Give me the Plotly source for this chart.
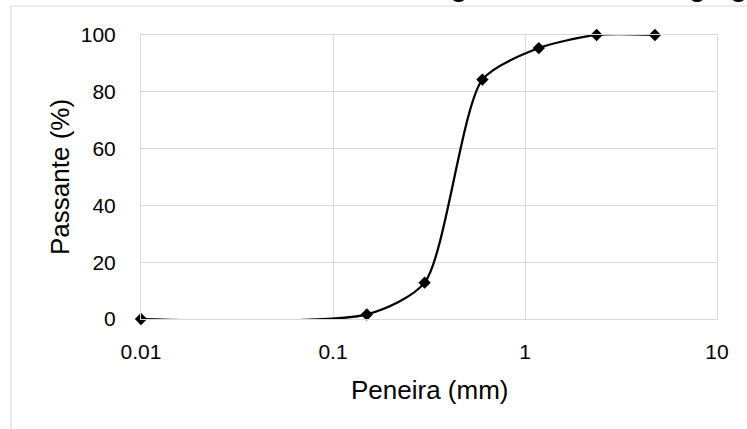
import plotly.graph_objects as go

# Sieve analysis data (sieve opening in mm, cumulative % passing)
peneira_mm = [0.01, 0.15, 0.3, 0.6, 1.18, 2.36, 4.75]
passante_pct = [0.0, 1.6, 12.8, 84.3, 95.4, 100.0, 100.0]

x_tick_vals = [0.01, 0.1, 1, 10]
x_tick_text = ["0.01", "0.1", "1", "10"]
y_tick_vals = [0, 20, 40, 60, 80, 100]

titulo = "Resultado do ensaio de granulometria do agregado miúdo"
titulo_x = "Peneira (mm)"
titulo_y = "Passante (%)"

W, H = 747, 429
L, R, T, B = 141, 30, 35, 110
pw, ph = W - L - R, H - T - B


def px_x(p):
    return (p - L) / pw


def px_y(p):
    return (H - B - p) / ph


grid = "#d9d9d9"
font_family = "Liberation Sans, Arial, sans-serif"

fig = go.Figure()
fig.add_trace(go.Scatter(
    x=peneira_mm,
    y=passante_pct,
    mode="lines+markers",
    line=dict(color="black", width=2.25, shape="spline", smoothing=0.7),
    marker=dict(symbol="diamond", size=9.5, color="black"),
    cliponaxis=False,
    hoverinfo="x+y",
))

fig.update_xaxes(
    type="log",
    range=[-2, 1],
    tickvals=x_tick_vals,
    ticktext=x_tick_text,
    showgrid=True, gridcolor=grid, gridwidth=1,
    showline=True, linecolor=grid, linewidth=1, mirror=True,
    ticks="", ticklabelstandoff=14,
    tickfont=dict(family=font_family, size=21, color="black"),
    zeroline=False,
)
fig.update_yaxes(
    range=[0, 100],
    tickvals=y_tick_vals,
    showgrid=True, gridcolor=grid, gridwidth=1,
    showline=True, linecolor=grid, linewidth=1, mirror=True,
    ticks="", ticklabelstandoff=20,
    tickfont=dict(family=font_family, size=21, color="black"),
    zeroline=False,
)

# Chart-area frame
fig.add_shape(
    type="rect", xref="paper", yref="paper",
    x0=px_x(11), y0=px_y(H + 50), x1=px_x(W + 50), y1=px_y(6),
    line=dict(color=grid, width=1.2), fillcolor="rgba(0,0,0,0)",
    layer="below",
)

fig.add_annotation(
    text=titulo, xref="paper", yref="paper",
    x=px_x(144), y=px_y(4.5), xanchor="left", yanchor="bottom",
    showarrow=False,
    font=dict(family=font_family, size=26.5, color="black", weight="bold"),
)
fig.add_annotation(
    text=titulo_x, xref="paper", yref="paper",
    x=0.5, y=px_y(390), xanchor="center", yanchor="middle",
    showarrow=False,
    font=dict(family=font_family, size=26, color="black"),
)
fig.add_annotation(
    text=titulo_y, xref="paper", yref="paper",
    x=px_x(60), y=0.5, xanchor="center", yanchor="middle",
    textangle=-90, showarrow=False,
    font=dict(family=font_family, size=26, color="black"),
)

fig.update_layout(
    width=W, height=H, autosize=False,
    margin=dict(l=L, r=R, t=T, b=B),
    plot_bgcolor="white", paper_bgcolor="white",
    showlegend=False,
)

fig.write_html("out.html")
